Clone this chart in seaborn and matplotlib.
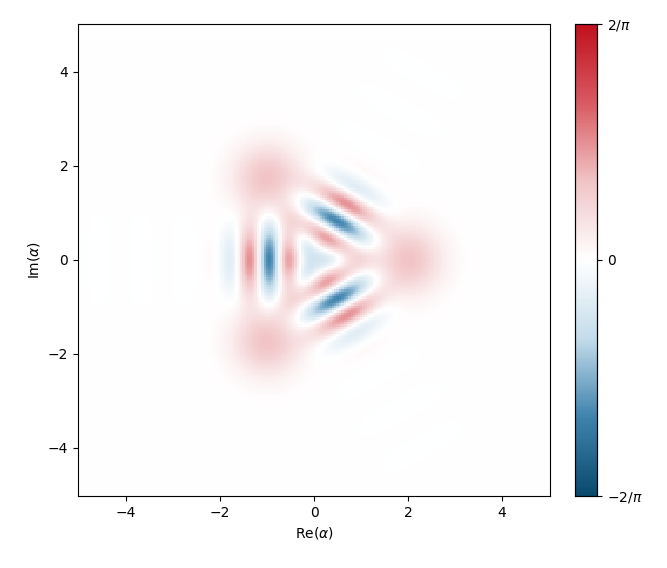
import numpy as np
import matplotlib
matplotlib.use("Agg")
import matplotlib.pyplot as plt
import seaborn as sns
from matplotlib.colors import LinearSegmentedColormap

# three-component cat state: amplitude and phases of coherent components
cat_amplitude = 2.0
cat_phases = [0.0, 2 * np.pi / 3, 4 * np.pi / 3]
cat_weights = [1.0, 1.0, 1.0]
axis_limit = 5.0
n_grid = 201
tick_values = [-4, -2, 0, 2, 4]
cbar_ticks = [-2 / np.pi, 0, 2 / np.pi]
cbar_labels = [r"$-2/\pi$", r"$0$", r"$2/\pi$"]

alphas = [cat_amplitude * np.exp(1j * p) for p in cat_phases]
xs = np.linspace(-axis_limit, axis_limit, n_grid)
X, Y = np.meshgrid(xs, xs)
beta = X + 1j * Y

W = np.zeros_like(X)
norm = 0.0
for cj, a in zip(cat_weights, alphas):
    for ck, b in zip(cat_weights, alphas):
        overlap = np.exp(-abs(a) ** 2 / 2 - abs(b) ** 2 / 2 + np.conj(b) * a)
        norm += (cj * ck * overlap).real
        term = (2 / np.pi) * np.exp(-2 * (beta - a) * (np.conj(beta) - np.conj(b))) \
            * np.exp(-abs(a) ** 2 / 2 - abs(b) ** 2 / 2 + a * np.conj(b))
        W = W + (cj * ck * term).real
W = W / norm

cmap = LinearSegmentedColormap.from_list(
    "dq", ["#0b4a6f", "#3f83ad", "#c4dceb", "#ffffff", "#f1c4c6", "#d85a62", "#c0101c"])

sns.set_style("white")
plt.rcParams.update({"text.color": "black", "axes.labelcolor": "black",
                     "xtick.color": "black", "ytick.color": "black"})
fig = plt.figure(figsize=(6.67, 5.68), dpi=100)
ax = fig.add_axes([0.117, 0.127, 0.708, 0.831])
cax = fig.add_axes([0.862, 0.127, 0.033, 0.831])
sns.heatmap(W[::-1], ax=ax, cbar_ax=cax, cmap=cmap, vmin=-2 / np.pi, vmax=2 / np.pi,
            xticklabels=False, yticklabels=False, rasterized=True)

pos = [(v + axis_limit) / (2 * axis_limit) * (n_grid - 1) + 0.5 for v in tick_values]
ax.set_xticks(pos)
ax.set_xticklabels([f"{v:g}".replace("-", "\u2212") for v in tick_values])
ax.set_yticks(pos[::-1])
ax.set_yticklabels([f"{v:g}".replace("-", "\u2212") for v in tick_values], rotation=0)
ax.tick_params(left=True, bottom=True, length=3.5, labelsize=10, colors="black")
for s in ax.spines.values():
    s.set_visible(True)
    s.set_color("black")
    s.set_linewidth(0.8)
ax.set_xlabel(r"Re($\alpha$)", color="black")
ax.set_ylabel(r"Im($\alpha$)", color="black")

cax.set_yticks(cbar_ticks)
cax.set_yticklabels(cbar_labels)
cax.tick_params(right=True, length=3.5, labelsize=10, colors="black")
for s in cax.spines.values():
    s.set_visible(True)
    s.set_color("black")
    s.set_linewidth(0.8)

fig.savefig("out.png", dpi=100)
